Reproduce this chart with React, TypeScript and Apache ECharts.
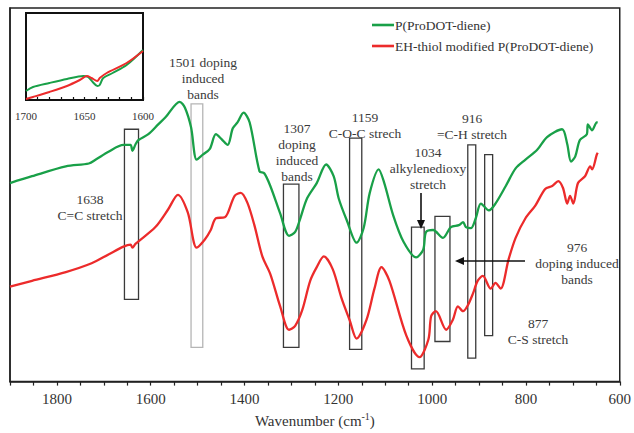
import React, { useEffect, useRef } from 'react';
import * as echarts from 'echarts';

// Main spectra: [wavenumber (cm-1), transmittance (a.u.)]
const greenSpectrum: number[][] = [
  [1900, 203], [1853, 210], [1781, 220], [1732, 223], [1717, 227], [1690, 235], [1658, 242], [1643, 242],
  [1639, 236], [1632, 243], [1626, 247], [1605, 253], [1584, 263], [1569, 270], [1538, 286], [1527, 280],
  [1514, 260], [1502, 227], [1489, 232], [1474, 238], [1461, 253], [1449, 248], [1436, 242], [1425, 259],
  [1415, 265], [1402, 275], [1389, 265], [1368, 215], [1358, 213], [1345, 200], [1324, 172], [1305, 149],
  [1292, 153], [1281, 167], [1267, 187], [1246, 203], [1226, 222], [1210, 210], [1199, 187], [1182, 165],
  [1161, 142], [1146, 157], [1133, 193], [1114, 217], [1102, 203], [1083, 170], [1061, 143], [1034, 127],
  [1019, 135], [1013, 153], [998, 155], [977, 147], [960, 158], [943, 160], [934, 163], [928, 158],
  [917, 157], [907, 167], [896, 182], [879, 175], [865, 182], [843, 200], [822, 218], [801, 227],
  [776, 237], [755, 250], [723, 258], [712, 243], [704, 225], [695, 230], [685, 247], [670, 253],
  [668, 263], [659, 257], [649, 265], [647, 265],
];

const redSpectrum: number[][] = [
  [1900, 97], [1853, 103], [1781, 112], [1726, 121], [1690, 130], [1658, 138], [1643, 140], [1639, 137],
  [1632, 141], [1590, 158], [1563, 176], [1542, 191], [1521, 173], [1502, 137], [1485, 145], [1472, 155],
  [1461, 167], [1442, 168], [1436, 172], [1421, 190], [1408, 193], [1394, 183], [1379, 160], [1362, 128],
  [1345, 110], [1324, 77], [1305, 53], [1292, 57], [1277, 73], [1260, 103], [1246, 117], [1231, 128],
  [1212, 115], [1193, 85], [1176, 63], [1161, 44], [1140, 63], [1123, 95], [1108, 117], [1091, 103],
  [1055, 47], [1027, 25], [1008, 43], [1002, 67], [992, 72], [970, 53], [956, 63], [945, 77],
  [934, 72], [924, 78], [913, 90], [903, 103], [892, 108], [875, 95], [865, 101], [854, 95],
  [837, 125], [822, 147], [801, 167], [780, 180], [759, 197], [744, 200], [731, 205], [721, 198],
  [712, 182], [706, 190], [699, 182], [689, 203], [674, 210], [663, 220], [659, 217], [649, 232], [647, 234],
];

// Inset (1700-1600 cm-1)
const insetGreen: number[][] = [
  [1700, 9], [1694, 13], [1680, 17], [1665, 21], [1651, 24], [1647, 23], [1643, 18], [1639, 14],
  [1637, 15], [1634, 22], [1626, 27], [1614, 35], [1600, 50],
];
const insetRed: number[][] = [
  [1700, 1], [1694, 3], [1680, 8], [1665, 14], [1654, 20], [1648, 24], [1644, 22], [1639, 19],
  [1637, 22], [1631, 27], [1614, 37], [1600, 49],
];

// Band boxes: [from, to, top, bottom] in wavenumber / signal units
const bandBoxes: number[][] = [
  [1656, 1626, 258, 84],
  [1514, 1489, 284, 35],
  [1317, 1284, 202, 35],
  [1176, 1150, 249, 33],
  [1044, 1017, 158, 13],
  [994, 962, 169, 41],
  [924, 907, 242, 24],
  [888, 871, 232, 47],
];
const lightBoxIndex = 1;

const seriesNames = ['P(ProDOT-diene)', 'EH-thiol modified P(ProDOT-diene)'];
const axisTitle = 'Wavenumber';

const annotations: { x: number; lines: string[]; y: number }[] = [
  { x: 90, y: 199, lines: ['1638', 'C=C stretch'] },
  { x: 203, y: 62, lines: ['1501 doping', 'induced', 'bands'] },
  { x: 297, y: 128, lines: ['1307', 'doping', 'induced', 'bands'] },
  { x: 365, y: 117, lines: ['1159', 'C-O-C strech'] },
  { x: 428, y: 152, lines: ['1034', 'alkylenedioxy', 'stretch'] },
  { x: 472, y: 118, lines: ['916', '=C-H stretch'] },
  { x: 577, y: 247, lines: ['976', 'doping induced', 'bands'] },
  { x: 538, y: 323, lines: ['877', 'C-S stretch'] },
];

const GREEN = '#19a048';
const RED = '#ec2b2b';
const FONT = '"Liberation Serif", "Times New Roman", serif';

export default function App() {
  const ref = useRef<HTMLDivElement>(null);
  useEffect(() => {
    document.body.style.margin = '0';
    if (!ref.current) return;
    const chart = echarts.init(ref.current, undefined, { renderer: 'svg' });

    const graphics: any[] = [];
    annotations.forEach((a) => {
      a.lines.forEach((t, i) => {
        graphics.push({
          type: 'text',
          x: a.x,
          y: a.y + i * 16,
          z: 100,
          style: {
            text: t,
            fill: '#3a3a3a',
            font: `13.5px ${FONT}`,
            textAlign: 'center',
            textVerticalAlign: 'middle',
          },
        });
      });
    });
    // arrows
    graphics.push({
      type: 'line', z: 100,
      shape: { x1: 421, y1: 193, x2: 421, y2: 222 },
      style: { stroke: '#111', lineWidth: 1.6 },
    });
    graphics.push({
      type: 'polygon', z: 100,
      shape: { points: [[417, 220], [425, 220], [421, 229]] },
      style: { fill: '#111' },
    });
    graphics.push({
      type: 'line', z: 100,
      shape: { x1: 525, y1: 261, x2: 462, y2: 261 },
      style: { stroke: '#111', lineWidth: 1.6 },
    });
    graphics.push({
      type: 'polygon', z: 100,
      shape: { points: [[464, 257], [464, 265], [455, 261]] },
      style: { fill: '#111' },
    });
    // legend
    [GREEN, RED].forEach((c, i) => {
      const y = 25 + i * 21;
      graphics.push({
        type: 'line', z: 100,
        shape: { x1: 372, y1: y, x2: 394, y2: y },
        style: { stroke: c, lineWidth: 2.6 },
      });
      graphics.push({
        type: 'text', z: 100, x: 395, y,
        style: {
          text: seriesNames[i],
          fill: '#333',
          font: `13.5px ${FONT}`,
          textAlign: 'left',
          textVerticalAlign: 'middle',
        },
      });
    });

    const markAreaData = bandBoxes.map((b, i) => [
      {
        coord: [b[0], b[2]],
        itemStyle: {
          color: 'rgba(0,0,0,0)',
          borderColor: i === lightBoxIndex ? '#b5b5b5' : '#3a3a3a',
          borderWidth: 1.3,
        },
      },
      { coord: [b[1], b[3]] },
    ]);

    chart.setOption({
      animation: false,
      backgroundColor: '#fff',
      grid: [
        { left: 10, top: 8, width: 615, height: 382, show: true, borderColor: '#222', borderWidth: 1.5, backgroundColor: 'transparent' },
        { left: 26, top: 13, width: 117, height: 87, show: true, borderColor: '#111', borderWidth: 2, backgroundColor: '#fff' },
      ],
      xAxis: [
        {
          type: 'value', gridIndex: 0, min: 600, max: 1900, interval: 50, inverse: true,
          axisLine: { show: true, lineStyle: { color: '#222', width: 1.5 } },
          axisTick: { show: true, length: 4, lineStyle: { color: '#222', width: 1.2 } },
          axisLabel: {
            margin: 10, fontSize: 15, color: '#333', fontFamily: FONT,
            formatter: (v: number) => (v % 200 === 0 ? String(v) : ''),
          },
          splitLine: { show: false },
          name: `{a|${axisTitle} (cm}{b|-1}{a|)}`,
          nameLocation: 'middle',
          nameGap: 24,
          nameTextStyle: {
            rich: {
              a: { fontSize: 15, fontFamily: FONT, color: '#333', lineHeight: 18 },
              b: { fontSize: 10, fontFamily: FONT, color: '#333', lineHeight: 18, verticalAlign: 'top', padding: [0, 0, 6, 0] },
            },
          },
        },
        {
          type: 'value', gridIndex: 1, min: 1600, max: 1700, interval: 10, inverse: true,
          axisLine: { show: true, lineStyle: { color: '#111', width: 2 } },
          axisTick: { show: true, inside: true, length: 3, lineStyle: { color: '#111', width: 1.2 } },
          axisLabel: {
            margin: 10, fontSize: 11, color: '#333', fontFamily: FONT,
            formatter: (v: number) => (v % 50 === 0 ? String(v) : ''),
          },
          splitLine: { show: false },
        },
      ],
      yAxis: [
        {
          type: 'value', gridIndex: 0, min: 0, max: 382,
          axisLine: { show: true, lineStyle: { color: '#222', width: 1.5 } },
          axisTick: { show: false }, axisLabel: { show: false }, splitLine: { show: false },
        },
        {
          type: 'value', gridIndex: 1, min: 0, max: 87,
          axisLine: { show: false }, axisTick: { show: false }, axisLabel: { show: false }, splitLine: { show: false },
        },
      ],
      series: [
        {
          name: seriesNames[0], type: 'line', xAxisIndex: 0, yAxisIndex: 0, data: greenSpectrum,
          showSymbol: false, smooth: 0.3, lineStyle: { color: GREEN, width: 2.3 }, z: 3,
          markArea: { silent: true, data: markAreaData, z: 1 },
        },
        {
          name: seriesNames[1], type: 'line', xAxisIndex: 0, yAxisIndex: 0, data: redSpectrum,
          showSymbol: false, smooth: 0.3, lineStyle: { color: RED, width: 2.3 }, z: 3,
        },
        {
          name: 'inset-green', type: 'line', xAxisIndex: 1, yAxisIndex: 1, data: insetGreen,
          showSymbol: false, smooth: 0.3, lineStyle: { color: GREEN, width: 2 }, z: 3,
        },
        {
          name: 'inset-red', type: 'line', xAxisIndex: 1, yAxisIndex: 1, data: insetRed,
          showSymbol: false, smooth: 0.3, lineStyle: { color: RED, width: 2 }, z: 4,
        },
      ],
      graphic: graphics,
    });
    return () => chart.dispose();
  }, []);
  return <div ref={ref} style={{ width: 634, height: 433 }} />;
}
